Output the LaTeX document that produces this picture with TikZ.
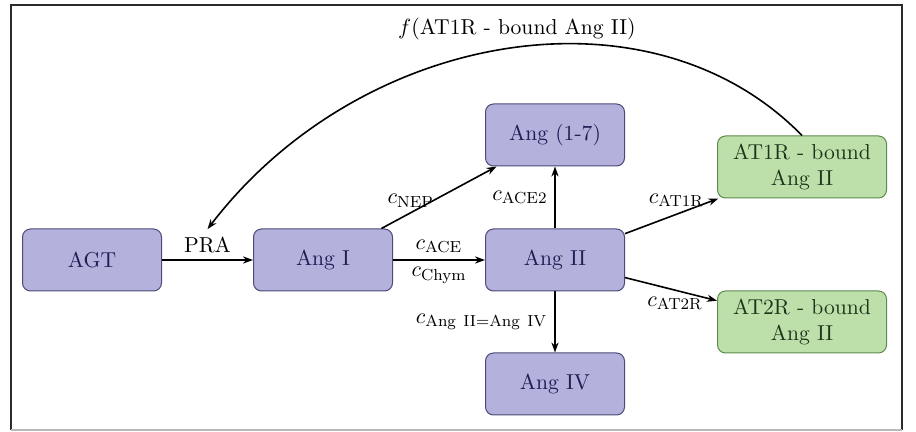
\documentclass[tikz,border=0pt]{standalone}
\usetikzlibrary{arrows.meta}
\definecolor{molfill}{HTML}{B4B1DC}
\definecolor{moldraw}{HTML}{4B4A78}
\definecolor{moltext}{HTML}{1E1E55}
\definecolor{cplxfill}{HTML}{BDE0AB}
\definecolor{cplxdraw}{HTML}{5E8A4E}
\definecolor{cplxtext}{HTML}{1C361A}
\definecolor{framecol}{HTML}{2B2B2B}
\begin{document}
\begin{tikzpicture}[x=0.5pt,y=-0.5pt,
  every node/.style={font=\fontsize{10.8}{13}\selectfont},
  mol/.style={rectangle, rounded corners=4pt, draw=moldraw, fill=molfill,
    text=moltext, minimum width=69.5pt, minimum height=31pt,
    line width=0.5pt, align=center},
  cplx/.style={mol, draw=cplxdraw, fill=cplxfill, text=cplxtext,
    minimum width=84.5pt},
  flow/.style={-{Stealth[length=5pt,width=3.6pt]}, line width=0.8pt}]
\useasboundingbox (0,0) rectangle (916,432);
% outer frame
\draw[line width=1.2pt, framecol] (11,430) -- (11,5) -- (902,5) -- (902,430);
\draw[line width=0.8pt, gray!55] (11,430) -- (902,430);

% species
\node[mol] (AGT)   at (92,260)  {AGT};
\node[mol] (AngI)  at (323,260) {Ang I};
\node[mol] (AngII) at (555,260) {Ang II};
\node[mol] (Ang17) at (555,135) {Ang (1-7)};
\node[mol] (AngIV) at (555,384) {Ang IV};
\node[cplx] (AT1R) at (802,167) {AT1R - bound\\Ang II};
\node[cplx] (AT2R) at (802,322) {AT2R - bound\\Ang II};

% reactions
\draw[flow] (AGT) -- node[midway, above] (pra) {PRA} (AngI);
\draw[flow] (AngI) -- node[midway, above] {$c_{\mathrm{ACE}}$}
                      node[midway, below] {$c_{\mathrm{Chym}}$} (AngII);
\draw[flow] (AngI) -- node[pos=0.22, above, xshift=2pt] {$c_{\mathrm{NEP}}$} (Ang17);
\draw[flow] (AngII) -- node[midway, left] {$c_{\mathrm{ACE2}}$} (Ang17);
\draw[flow] (AngII) -- node[pos=0.55, above] {$c_{\mathrm{AT1R}}$} (AT1R);
\draw[flow] (AngII) -- node[midway, below, xshift=2pt] {$c_{\mathrm{AT2R}}$} (AT2R);
\draw[flow] (AngII) -- node[midway, left]
  {$c_{\mathrm{Ang\ II{=}Ang\ IV}}$} (AngIV);

% feedback of bound Ang II on renin activity
\draw[flow] (AT1R.north) .. controls (650,-20) and (360,30) ..
  node[midway, above=1pt, xshift=6pt] {$f($AT1R - bound Ang II$)$} (pra.north);
\end{tikzpicture}
\end{document}
